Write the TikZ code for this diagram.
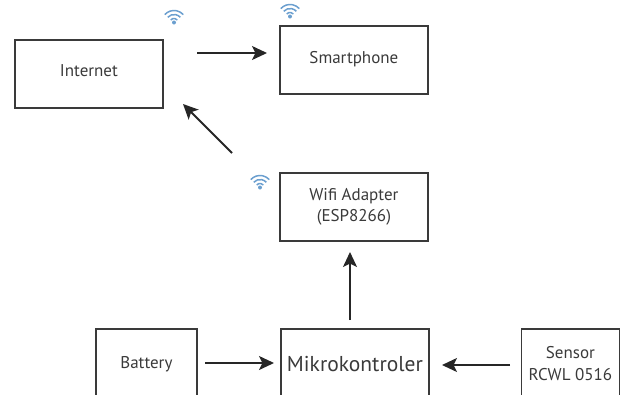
\documentclass[tikz,border=0pt]{standalone}
\usepackage{fontspec}
\setmainfont{PT Sans}
\usetikzlibrary{arrows.meta}
\definecolor{wifiblue}{HTML}{6B9FCF}
\definecolor{inkgrey}{HTML}{3A3A3A}
\tikzset{
  x=1pt,y=-1pt,
  boxnode/.style={draw=inkgrey,line width=1.8pt,inner sep=0pt,anchor=north west,align=center,text=inkgrey,font=\fontsize{17}{22}\selectfont},
  flow/.style={draw=black!85,line width=1.8pt,-{Stealth[length=15pt,width=14pt,inset=3.5pt]}},
  pics/wifi/.style={code={
    \fill[wifiblue] (0,5.5) circle (2pt);
    \foreach \r in {4.5,8.5,12.5}{
      \draw[wifiblue,line width=1.5pt] ({-\r*0.74},{6-\r*0.67}) arc[start angle=138,end angle=42,radius=\r pt];
    }
  }}
}
\begin{document}
\begin{tikzpicture}
\useasboundingbox (0,0) rectangle (620,394);
\clip (0,0) rectangle (620,394);
\node[boxnode,minimum width=148pt,minimum height=68pt] (internet) at (14,39) {\raisebox{6pt}{Internet}};
\node[boxnode,minimum width=148pt,minimum height=68pt] (smart) at (279,25) {\raisebox{5pt}{Smartphone}};
\node[boxnode,minimum width=148pt,minimum height=68pt,yshift=0pt] (wifi) at (279,172) {\raisebox{-3pt}{Wifi Adapter}\\\raisebox{-2pt}{(ESP8266)}};
\node[boxnode,minimum width=101pt,minimum height=70pt] (battery) at (95,328) {\raisebox{-2pt}{Battery}};
\node[boxnode,minimum width=148pt,minimum height=70pt,font=\fontsize{21.5}{22}\selectfont] (mikro) at (280,328) {Mikrokontroler};
\node[boxnode,minimum width=98pt,minimum height=70pt] (sensor) at (520.5,328) {Sensor\\RCWL 0516};
\coordinate (a1) at (197,53); \coordinate (a2) at (267,53);
\coordinate (b1) at (232,153); \coordinate (b2) at (183,104);
\coordinate (c1) at (350,320); \coordinate (c2) at (350,252);
\coordinate (d1) at (205,363); \coordinate (d2) at (274,363);
\coordinate (e1) at (510,365); \coordinate (e2) at (442,365);
\draw[flow] (a1) -- (a2);
\draw[flow] (b1) -- (b2);
\draw[flow] (c1) -- (c2);
\draw[flow] (d1) -- (d2);
\draw[flow] (e1) -- (e2);
\pic at (174,17) {wifi};
\pic at (290,11) {wifi};
\pic at (260,182) {wifi};
\end{tikzpicture}
\end{document}
